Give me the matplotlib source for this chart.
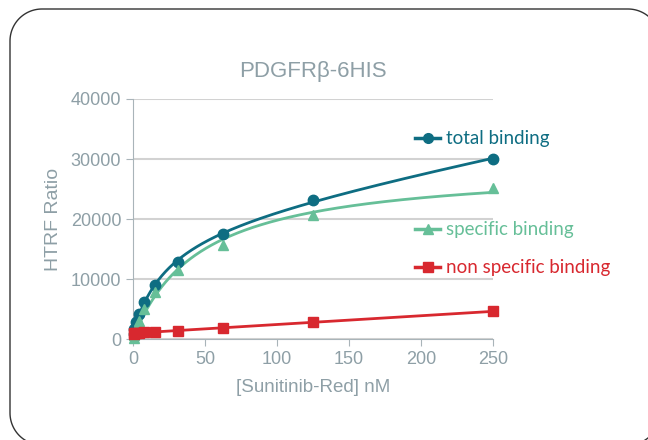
import numpy as np
import matplotlib
matplotlib.use("Agg")
import matplotlib.pyplot as plt
from matplotlib.lines import Line2D

# Sunitinib-Red concentrations (nM) and HTRF ratios
conc = [0.49, 0.98, 1.95, 3.9, 7.8, 15.6, 31.25, 62.5, 125, 250]
total = [900, 1600, 2800, 4200, 6200, 9000, 12900, 17500, 23200, 30000]
specific = [200, 700, 1700, 3000, 5000, 7800, 11500, 15600, 20700, 25200]
nonspecific = [900, 950, 1000, 1050, 1150, 1200, 1350, 1900, 2800, 4600]

labels = ["total binding", "specific binding", "non specific binding"]
colors = ["#0e6d82", "#66bf98", "#d8282f"]
markers = ["o", "^", "s"]

grey = "#8e9fa6"
W, H = 648, 440
x = np.array(conc, dtype=float)


def fit_one_site(xv, yv, with_ns=False):
    # grid search on Kd, linear least squares for the rest
    best = None
    for kd in np.linspace(1, 300, 3000):
        cols = [xv / (kd + xv)]
        if with_ns:
            cols += [xv, np.ones_like(xv)]
        A = np.column_stack(cols)
        coef, *_ = np.linalg.lstsq(A, yv, rcond=None)
        err = np.sum((A @ coef - yv) ** 2)
        if best is None or err < best[0]:
            best = (err, kd, coef)
    return best[1], best[2]


xs = np.linspace(0, 250, 400)

fig = plt.figure(figsize=(W / 100, H / 100), dpi=100)
ax = fig.add_axes([0.2052, 0.2295, 0.5556, 0.5455])

# total binding: one site + nonspecific
kd, c = fit_one_site(x, np.array(total, float), with_ns=True)
yt = c[0] * xs / (kd + xs) + c[1] * xs + c[2]
ax.plot(xs, yt, color=colors[0], lw=2, zorder=3)

# specific binding: one site
kd, c = fit_one_site(x, np.array(specific, float))
ys = c[0] * xs / (kd + xs)
ax.plot(xs, ys, color=colors[1], lw=2, zorder=2)

# non specific binding: linear
p = np.polyfit(x, nonspecific, 1)
ax.plot(xs, np.polyval(p, xs), color=colors[2], lw=2, zorder=2)

for yv, col, mk, ms in zip([total, specific, nonspecific], colors, markers, [7.5, 7, 7.5]):
    ax.plot(conc, yv, ls="none", marker=mk, ms=ms, color=col, clip_on=False, zorder=4)

ax.set_xlim(0, 250)
ax.set_ylim(0, 40000)
ax.set_xticks([0, 50, 100, 150, 200, 250])
ax.set_yticks([0, 10000, 20000, 30000, 40000])
ax.yaxis.grid(True, color="#d2d2d2", lw=1.5)
ax.set_axisbelow(True)
for s in ["top", "right"]:
    ax.spines[s].set_visible(False)
for s in ["left", "bottom"]:
    ax.spines[s].set_color("#a9b4b9")
ax.tick_params(colors="#a9b4b9", labelcolor=grey, labelsize=13, length=5)
for t in ax.get_xticklabels() + ax.get_yticklabels():
    t.set_fontfamily("Liberation Sans")

ax.set_xlabel("[Sunitinib-Red] nM", color=grey, fontsize=13.5,
              fontfamily="Liberation Sans", labelpad=8)
ax.set_ylabel("HTRF Ratio", color=grey, fontsize=14,
              fontfamily="Liberation Sans", labelpad=6)
ax.set_title("PDGFRβ-6HIS", color=grey, fontsize=16,
             fontfamily="Liberation Sans", pad=16)

# legend entries next to the curves
leg_y = [138, 229, 267]
for lab, col, mk, yy in zip(labels, colors, markers, leg_y):
    fy = 1 - yy / H
    fig.add_artist(Line2D([415 / W, 440 / W], [fy, fy], color=col, lw=2.5,
                          transform=fig.transFigure))
    fig.add_artist(Line2D([427.5 / W], [fy], color=col, marker=mk, ms=7,
                          transform=fig.transFigure))
    fig.text(446 / W, fy, lab, color=col, fontsize=13.5, fontfamily="Lato",
             va="center", ha="left")

# rounded frame (pixel coords from top-left), running off at right and bottom
left, top, right, bottom, r = 10, 9, 660, 445, 32
t = np.linspace(0, np.pi / 2, 30)
px, py = [], []
for cx, cy, a0 in [(right - r, top + r, 0), (left + r, top + r, np.pi / 2),
                   (left + r, bottom - r, np.pi), (right - r, bottom - r, 1.5 * np.pi)]:
    ang = a0 + t
    px += list(cx + r * np.cos(ang))
    py += list(cy - r * np.sin(ang))
px.append(px[0])
py.append(py[0])
fig.add_artist(Line2D(np.array(px) / W, 1 - np.array(py) / H, color="#333333",
                      lw=1, transform=fig.transFigure))

fig.savefig("out.png", dpi=100)
